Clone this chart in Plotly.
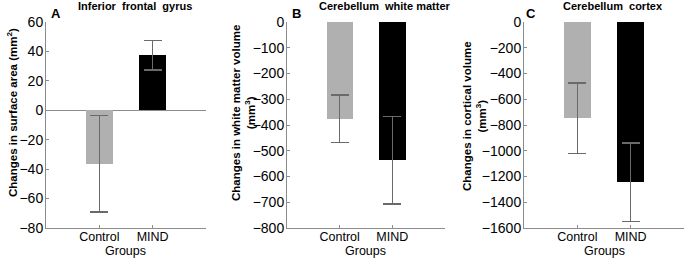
import plotly.graph_objects as go

W, H = 685, 259

groups = ["Control", "MIND"]
panel_letters = ["A", "B", "C"]
panel_titles = ["Inferior  frontal  gyrus", "Cerebellum  white matter", "Cerebellum  cortex"]
x_title = "Groups"
y_titles = ["Changes in surface area (mm<sup>2</sup>)",
            "Changes in white matter volume<br>(mm<sup>3</sup>)",
            "Changes in cortical volume<br>(mm<sup>3</sup>)"]

a_means = [-36.4, 37.3]
a_errs = [32.7, 10.0]
b_means = [-376, -537]
b_errs = [92, 170]
c_means = [-748, -1243]
c_errs = [275, 305]

y_ranges = [[-80, 60], [-800, 0], [-1600, 0]]
y_dticks = [20, 100, 200]

bar_colors = ["#b0b0b0", "#000000"]

means = [a_means, b_means, c_means]
errs = [a_errs, b_errs, c_errs]

# pixel layout
x_doms_px = [(46, 206), (287, 445), (524, 684)]
y_top_px, y_bot_px = 22, 228

fig = go.Figure()
FONT = "Liberation Sans, Arial, sans-serif"

for i in range(3):
    xa = "x" if i == 0 else f"x{i+1}"
    ya = "y" if i == 0 else f"y{i+1}"
    fig.add_trace(go.Bar(
        x=[1, 2], y=means[i], xaxis=xa, yaxis=ya,
        width=0.5,
        marker=dict(color=bar_colors, line=dict(width=0)),
        error_y=dict(type="data", array=errs[i], color="#6a6a6a", thickness=1.5, width=9),
        showlegend=False, hoverinfo="skip",
    ))
    dom = [x_doms_px[i][0] / W, x_doms_px[i][1] / W]
    key = "xaxis" if i == 0 else f"xaxis{i+1}"
    ykey = "yaxis" if i == 0 else f"yaxis{i+1}"
    fig.layout[key] = dict(
        domain=dom, range=[0, 3], tickvals=[1, 2], ticktext=groups,
        showline=True, linecolor="#8c8c8c", linewidth=1,
        ticks="inside", ticklen=3, tickcolor="#8c8c8c",
        showgrid=False, zeroline=False, automargin=False,
        ticklabelstandoff=-3,
        tickfont=dict(family=FONT, size=12.5, color="#000"),
        anchor=ya, fixedrange=True,
    )
    fig.layout[ykey] = dict(
        domain=[1 - y_bot_px / H, 1 - y_top_px / H],
        range=y_ranges[i], dtick=y_dticks[i], tick0=0,
        showline=True, linecolor="#8c8c8c", linewidth=1,
        ticks="inside", ticklen=3, tickcolor="#8c8c8c",
        showgrid=False, automargin=False,
        ticklabelstandoff=-1,
        zeroline=(i == 0), zerolinecolor="#8c8c8c", zerolinewidth=1,
        tickfont=dict(family=FONT, size=14, color="#000"),
        anchor=xa, fixedrange=True,
    )

annotations = []
title_x_px = [135, 385, 613]
letter_x_px = [56, 296, 531]
ytitle_x_px = [12, 243, 474]
ytitle_y_px = [113, 113, 116]
for i in range(3):
    annotations.append(dict(
        text=f"<b>{panel_titles[i]}</b>", x=title_x_px[i] / W, y=1 - 6 / H,
        xref="paper", yref="paper", xanchor="center", yanchor="middle",
        showarrow=False, font=dict(family=FONT, size=11, color="#000")))
    annotations.append(dict(
        text=f"<b>{panel_letters[i]}</b>", x=letter_x_px[i] / W, y=1 - 13 / H,
        xref="paper", yref="paper", xanchor="center", yanchor="middle",
        showarrow=False, font=dict(family=FONT, size=13, color="#000")))
    annotations.append(dict(
        text=f"<b>{y_titles[i]}</b>", x=ytitle_x_px[i] / W, y=1 - ytitle_y_px[i] / H,
        xref="paper", yref="paper", xanchor="center", yanchor="middle",
        textangle=-90, showarrow=False,
        font=dict(family=FONT, size=11.5, color="#000")))
    cx = (x_doms_px[i][0] + x_doms_px[i][1]) / 2
    annotations.append(dict(
        text=x_title, x=cx / W, y=1 - 251 / H,
        xref="paper", yref="paper", xanchor="center", yanchor="middle",
        showarrow=False, font=dict(family=FONT, size=12.5, color="#000")))

fig.update_layout(
    width=W, height=H,
    margin=dict(l=0, r=0, t=0, b=0, autoexpand=False),
    paper_bgcolor="white", plot_bgcolor="white",
    annotations=annotations,
    bargap=0, hovermode=False,
)

fig.write_html("out.html",
               config={"displayModeBar": False, "staticPlot": True},
               post_script="document.body.style.margin='0';document.body.style.padding='0';")
